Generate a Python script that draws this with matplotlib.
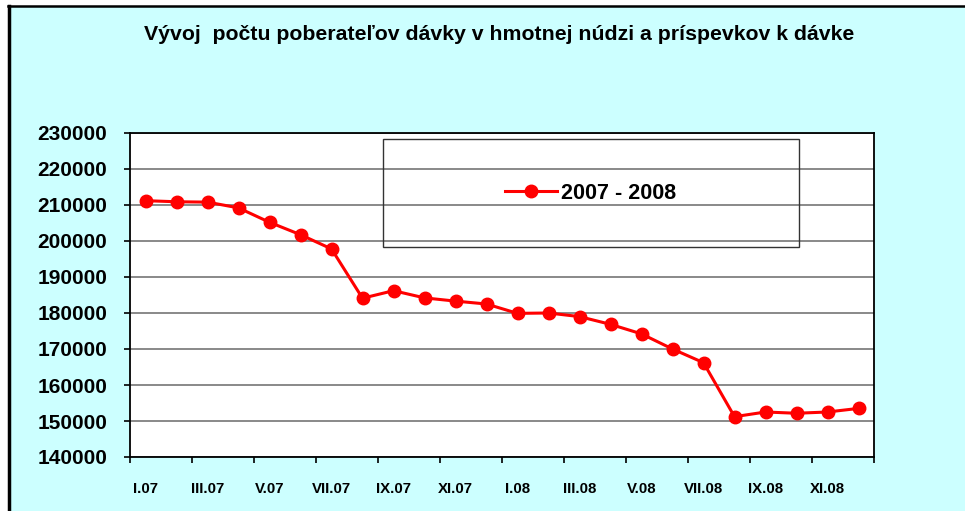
import numpy as np
import matplotlib
matplotlib.use('Agg')
import matplotlib.pyplot as plt
from matplotlib.patches import Rectangle
from matplotlib.lines import Line2D

plt.rcParams['font.family'] = ['Liberation Sans', 'DejaVu Sans']

# údaje
mesiace = ['I.07', 'II.07', 'III.07', 'IV.07', 'V.07', 'VI.07', 'VII.07', 'VIII.07',
           'IX.07', 'X.07', 'XI.07', 'XII.07', 'I.08', 'II.08', 'III.08', 'IV.08',
           'V.08', 'VI.08', 'VII.08', 'VIII.08', 'IX.08', 'X.08', 'XI.08', 'XII.08']
poberatelia = [211200, 210900, 210800, 209200, 205200, 201750, 197800, 184100,
               186200, 184200, 183300, 182500, 179900, 180000, 179000, 176850,
               174200, 170000, 166200, 151200, 152500, 152150, 152500, 153500]
nazov_serie = '2007 - 2008'
nadpis = 'Vývoj  počtu poberateľov dávky v hmotnej núdzi a príspevkov k dávke'

W, H = 965, 511
fig = plt.figure(figsize=(W / 100, H / 100), dpi=100)
fig.patch.set_facecolor('white')

# pozadie grafu
fig.patches.append(Rectangle((8 / W, 0), 1 - 8 / W, 1 - 6 / H, transform=fig.transFigure,
                             facecolor='#CCFFFF', edgecolor='none', zorder=-5))
fig.lines.append(Line2D([9 / W, 9 / W], [0, 1 - 6 / H], transform=fig.transFigure,
                        color='black', lw=2.5, zorder=-4))
fig.lines.append(Line2D([8 / W, 1], [1 - 6 / H, 1 - 6 / H], transform=fig.transFigure,
                        color='black', lw=1.8, zorder=-4))

fig.text(499 / W, 1 - 34 / H, nadpis, ha='center', va='center',
         fontsize=15.3, fontweight='bold')

ax = fig.add_axes([130 / W, (H - 457) / H, 744 / W, 324 / H])
ax.set_zorder(2)
ax.set_facecolor('white')

x = np.arange(len(mesiace))
ax.plot(x, poberatelia, color='#FF0000', lw=2.2, marker='o', markersize=9,
        label=nazov_serie, zorder=3)

ax.set_xlim(-0.5, len(mesiace) - 0.5)
ax.set_ylim(140000, 230000)
ax.set_yticks(np.arange(140000, 230001, 10000))
ax.yaxis.grid(True, color='#808080', lw=1.3)
ax.set_axisbelow(True)
ax.tick_params(axis='y', length=4.5, width=1.2, pad=12, labelsize=15)
for t in ax.get_yticklabels():
    t.set_fontweight('bold')

ax.set_xticks(np.arange(-0.5, len(mesiace), 2))
ax.set_xticklabels([])
ax.tick_params(axis='x', which='major', length=4.5, width=1.2, direction='out')
ax.set_xticks(x[::2], minor=True)
ax.set_xticklabels(mesiace[::2], minor=True, fontsize=10.8, fontweight='bold')
ax.tick_params(axis='x', which='minor', length=0, pad=18)

for s in ax.spines.values():
    s.set_linewidth(1.3)
    s.set_color('black')

# legenda
ax.add_patch(Rectangle((0.340, 0.648), 0.559, 0.333, transform=ax.transAxes,
                       facecolor='none', edgecolor='#333333', lw=1.0, zorder=4))
ax.legend(loc='center', bbox_to_anchor=(0.340, 0.648, 0.559, 0.333), frameon=False,
          prop={'size': 15.5, 'weight': 'bold'}, handlelength=2.4, handletextpad=0.2)

fig.savefig('out.png', dpi=100)
